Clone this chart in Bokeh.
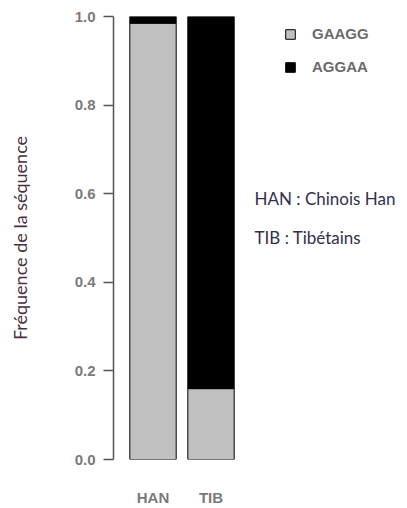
from bokeh.plotting import figure
from bokeh.models import Range1d, FixedTicker, PrintfTickFormatter, Legend, LegendItem, Label, Title
from bokeh.embed import file_html
from bokeh.resources import INLINE

# ---- data ----
categories = ["HAN", "TIB"]
sequences = ["GAAGG", "AGGAA"]
gaagg = [0.985, 0.16]
aggaa = [0.015, 0.84]
seq_colors = ["#c0c0c0", "#000000"]
y_ticks = [0.0, 0.2, 0.4, 0.6, 0.8, 1.0]
notes = ["HAN : Chinois Han", "TIB : Tibétains"]
y_title = "Fréquence de la séquence"

xs = [i + 0.5 for i in range(len(categories))]
source = dict(x=xs, GAAGG=gaagg, AGGAA=aggaa)

p = figure(frame_width=286, frame_height=443,
           min_border_left=113, min_border_top=16, min_border_bottom=41, min_border_right=0,
           x_range=Range1d(-0.181, 4.75), y_range=Range1d(0, 1),
           output_backend="svg", toolbar_location=None)
p.outline_line_color = None
p.xgrid.visible = False
p.ygrid.visible = False
p.background_fill_color = "white"

rs = p.vbar_stack(sequences, x="x", width=0.8, source=source,
                  fill_color=seq_colors, line_color="black", line_width=1)

# y axis (R style)
ya = p.yaxis[0]
ya.ticker = FixedTicker(ticks=y_ticks)
ya.formatter = PrintfTickFormatter(format="%.1f")
ya.bounds = (0, 1)
ya.axis_line_color = "#555555"
ya.axis_line_width = 1.5
ya.major_tick_line_color = "#555555"
ya.major_tick_line_width = 1.5
ya.major_tick_out = 10
ya.major_tick_in = 0
ya.minor_tick_line_color = None
ya.major_label_standoff = 8
ya.major_label_text_font = "Liberation Sans"
ya.major_label_text_font_size = "15px"
ya.major_label_text_font_style = "bold"
ya.major_label_text_color = "#7a7a7a"
# blank axis label only reserves the gap between tick labels and the title
ya.axis_label = " "
ya.axis_label_text_font_size = "18px"
ya.axis_label_standoff = 18

# x axis
xa = p.xaxis[0]
xa.ticker = FixedTicker(ticks=xs)
xa.major_label_overrides = {x: c for x, c in zip(xs, categories)}
xa.axis_line_color = None
xa.major_tick_line_color = None
xa.minor_tick_line_color = None
xa.major_tick_out = 0
xa.major_label_standoff = 29
xa.major_label_text_font = "Liberation Sans"
xa.major_label_text_font_size = "15px"
xa.major_label_text_font_style = "bold"
xa.major_label_text_color = "#7a7a7a"

legend = Legend(items=[LegendItem(label=s, renderers=[r]) for s, r in zip(sequences, rs)],
                location=(171, 384), orientation="vertical",
                glyph_width=12, glyph_height=12, label_height=12,
                label_standoff=16, spacing=16, padding=0, margin=0,
                border_line_color=None, background_fill_alpha=0,
                label_text_font="Liberation Sans", label_text_font_size="15px",
                label_text_font_style="bold", label_text_color="#6a6a6a")
p.add_layout(legend, "center")

for i, t in enumerate(notes):
    p.add_layout(Label(x=141, y=261 - i * 39, x_units="screen", y_units="screen",
                       text=t, text_font="Lato", text_font_size="17px",
                       text_color="#33304a", text_baseline="middle"))

p.add_layout(Title(text=y_title, align="center", offset=40, standoff=0,
                   text_font="Lato", text_font_size="18px", text_font_style="normal",
                   text_color="#4a3040"), "left")

open("out.html", "w").write(file_html(p, INLINE))
